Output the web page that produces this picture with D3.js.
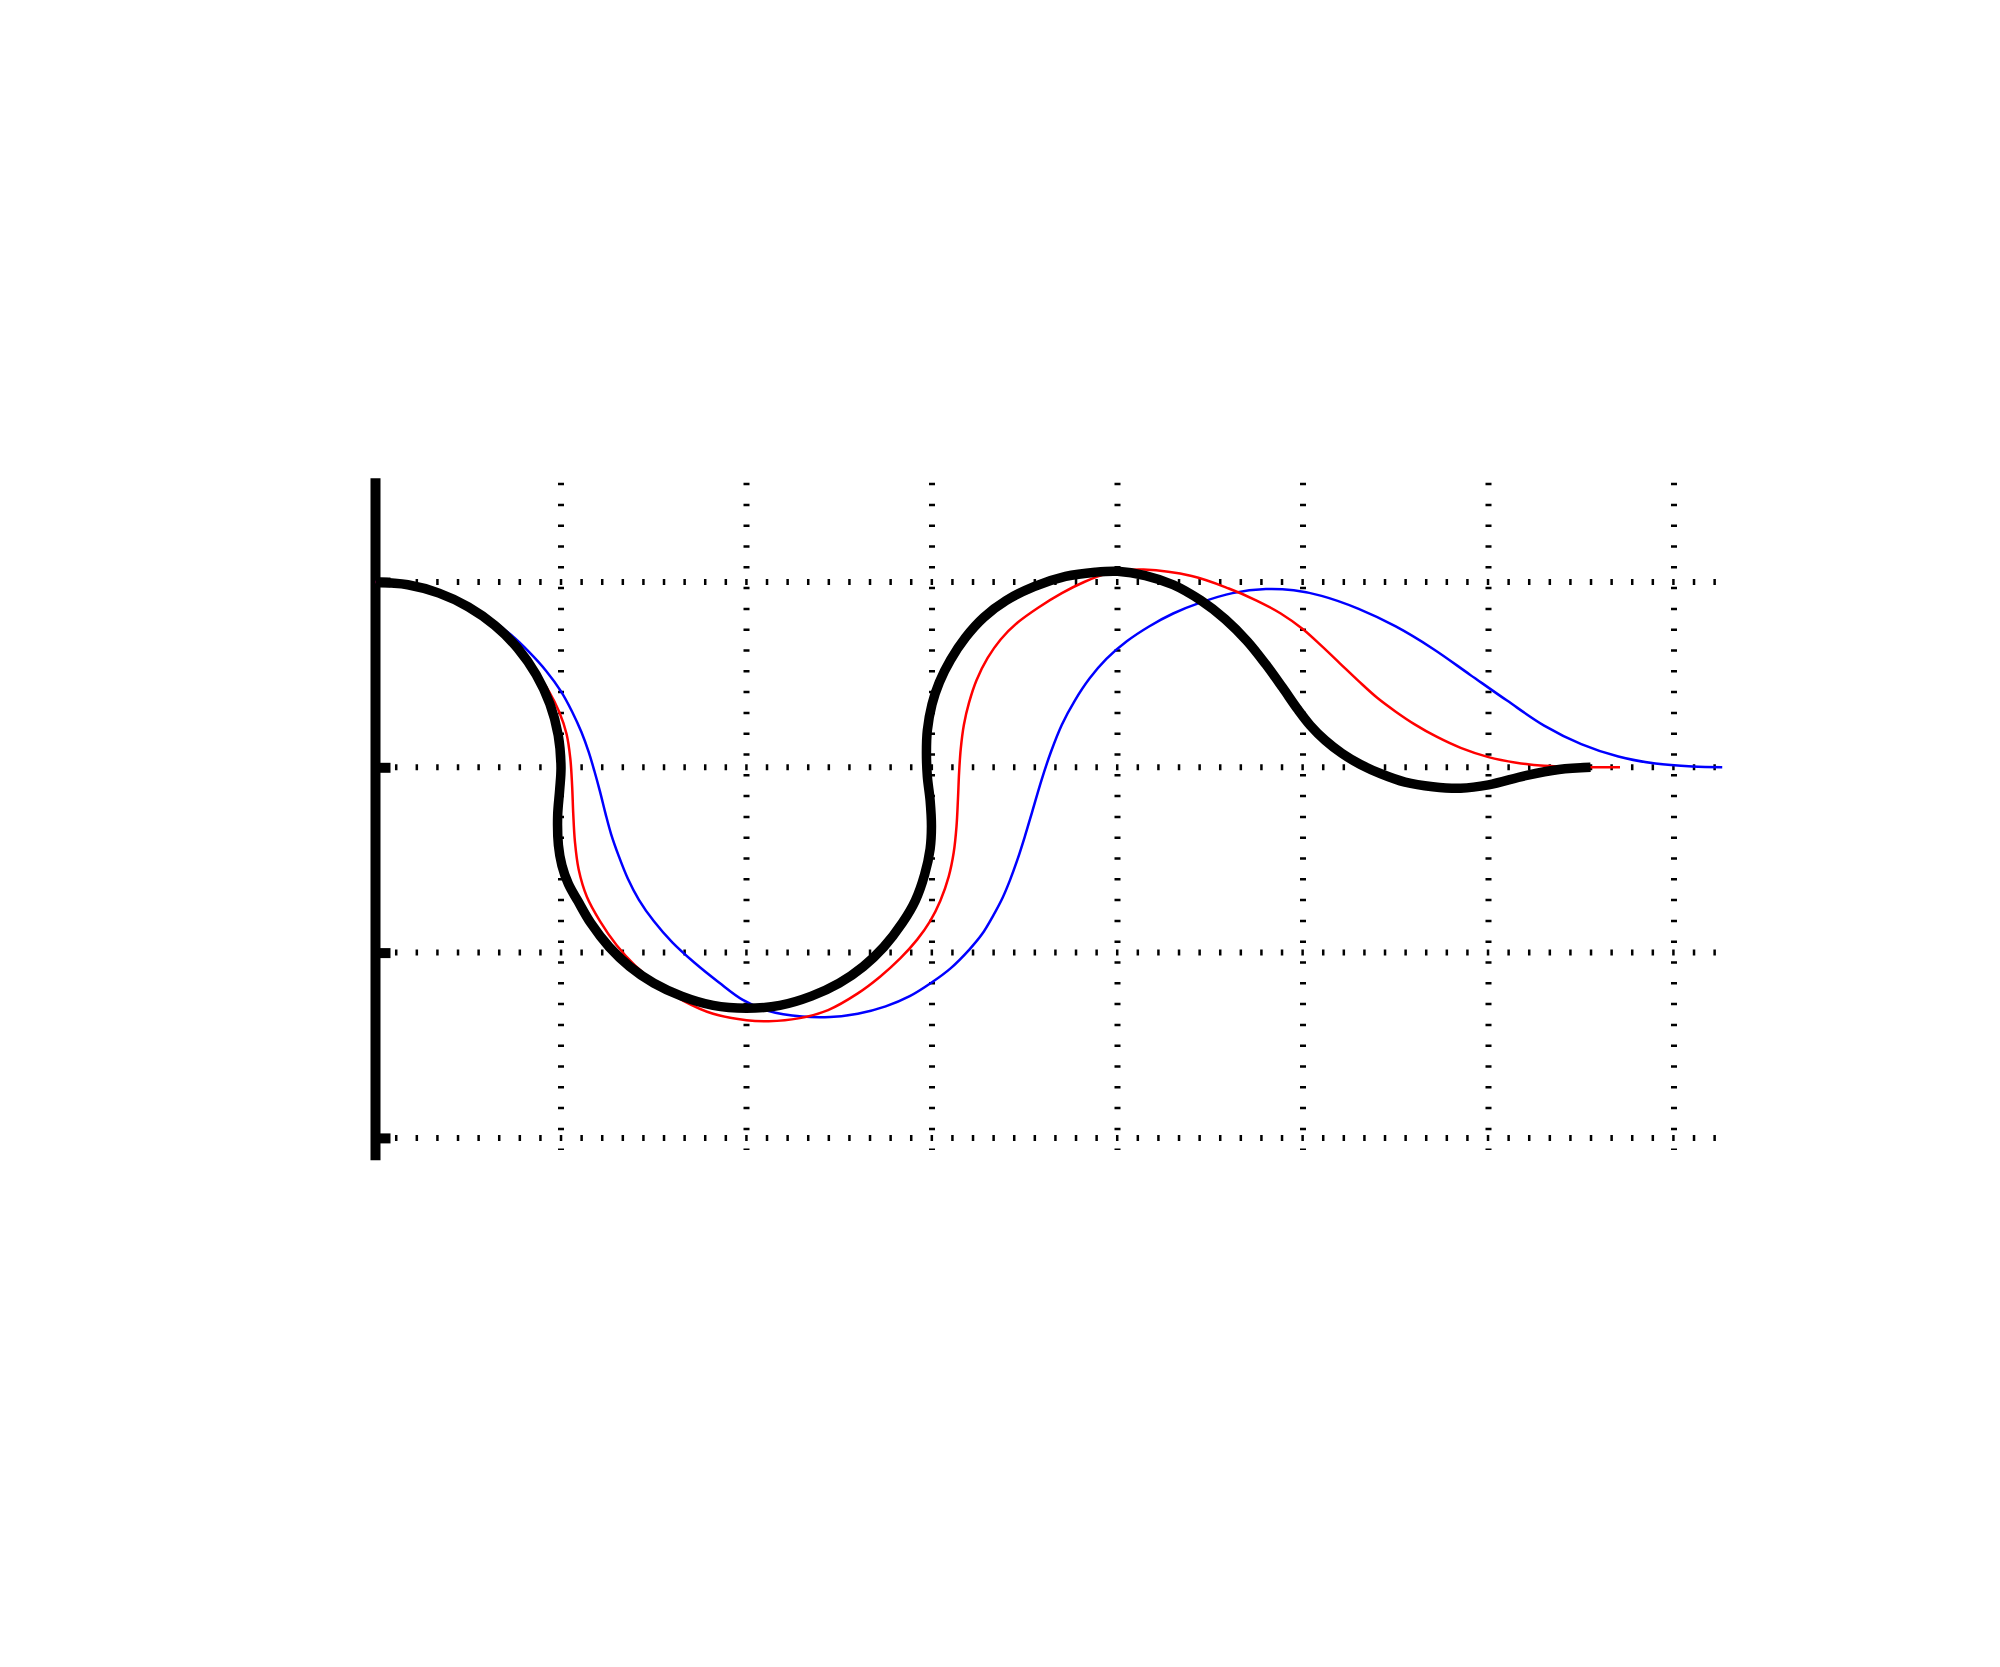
<!DOCTYPE html>
<html lang="en">
<head>
    <meta charset="UTF-8">
    <title>Curves</title>
</head>

<style>

body {
    margin: 0;
    background: white;
}

.grid-h {
    stroke: black;
    stroke-width: 6;
    stroke-dasharray: 2.5 18.1;
    fill: none;
}

.grid-v {
    stroke: black;
    stroke-width: 6;
    stroke-dasharray: 2.5 18.3;
    fill: none;
}

.curve {
    fill: none;
    stroke-linecap: butt;
    stroke-linejoin: round;
}

</style>

<body>
<svg height="1667" width="2000"></svg>

<script src="https://d3js.org/d3.v7.min.js"></script>

<script>

    var translate = function(left, top) {
        return "translate(" + left + "," + top + ")";
    };

    // grid positions
    var xGridValues = [1, 2, 3, 4, 5, 6, 7];
    var yGridValues = [1, 0, -1, -2];
    var yTickValues = [1, 0, -1, -2];

    // curves, [x, y]
    var blackCurve = [
        [0, 1.0], [0.174, 0.985], [0.342, 0.94], [0.5, 0.866], [0.643, 0.766],
        [0.766, 0.643], [0.866, 0.5], [0.94, 0.342], [0.985, 0.174], [1.0, 0.0],
        [0.993, -0.12], [0.982, -0.26], [0.986, -0.42], [1.005, -0.53], [1.04, -0.63],
        [1.09, -0.72], [1.16, -0.84], [1.26, -0.97], [1.37, -1.075], [1.5, -1.165],
        [1.65, -1.235], [1.82, -1.285], [2.0, -1.3], [2.18, -1.285], [2.35, -1.235],
        [2.5, -1.165], [2.63, -1.075], [2.74, -0.97], [2.84, -0.84], [2.91, -0.72],
        [2.96, -0.58], [2.99, -0.44], [2.997, -0.32], [2.99, -0.18], [2.975, -0.05],
        [2.97, 0.08], [2.975, 0.2], [3.0, 0.34], [3.04, 0.46], [3.1, 0.58],
        [3.18, 0.7], [3.28, 0.81], [3.4, 0.9], [3.55, 0.975], [3.72, 1.03],
        [3.88, 1.053], [4.0, 1.058], [4.15, 1.035], [4.3, 0.985], [4.45, 0.9],
        [4.58, 0.8], [4.7, 0.68], [4.8, 0.555], [4.89, 0.43], [4.97, 0.315],
        [5.04, 0.225], [5.12, 0.145], [5.21, 0.075], [5.31, 0.015], [5.42, -0.035],
        [5.55, -0.08], [5.7, -0.105], [5.85, -0.113], [6.0, -0.095], [6.2, -0.045],
        [6.38, -0.012], [6.55, 0.0]
    ];

    var redCurve = [
        [0, 1.0], [0.174, 0.985], [0.342, 0.94], [0.5, 0.866], [0.643, 0.766],
        [0.766, 0.643], [0.86, 0.525], [0.935, 0.41], [0.99, 0.3], [1.03, 0.18],
        [1.05, 0.05], [1.06, -0.1], [1.066, -0.25], [1.075, -0.4], [1.095, -0.55],
        [1.14, -0.7], [1.21, -0.83], [1.3, -0.96], [1.4, -1.07], [1.52, -1.17],
        [1.66, -1.26], [1.82, -1.33], [2.0, -1.365], [2.12, -1.37], [2.28, -1.355],
        [2.44, -1.31], [2.6, -1.22], [2.72, -1.13], [2.83, -1.03], [2.92, -0.93],
        [2.99, -0.83], [3.045, -0.72], [3.09, -0.59], [3.117, -0.46], [3.132, -0.32],
        [3.14, -0.17], [3.146, -0.03], [3.155, 0.1], [3.172, 0.23], [3.2, 0.35],
        [3.24, 0.47], [3.3, 0.59], [3.37, 0.69], [3.46, 0.78], [3.57, 0.86],
        [3.7, 0.94], [3.82, 1.0], [3.94, 1.045], [4.04, 1.063], [4.14, 1.067],
        [4.4, 1.032], [4.6, 0.965], [4.75, 0.9], [4.88, 0.83], [5.0, 0.745],
        [5.1, 0.655], [5.2, 0.56], [5.3, 0.465], [5.4, 0.375], [5.5, 0.3],
        [5.6, 0.233], [5.72, 0.165], [5.85, 0.105], [6.0, 0.055], [6.15, 0.025],
        [6.3, 0.008], [6.5, 0.001], [6.709, 0.0]
    ];

    var blueCurve = [
        [0, 1.0], [0.174, 0.985], [0.342, 0.94], [0.5, 0.87], [0.62, 0.8],
        [0.73, 0.715], [0.83, 0.62], [0.92, 0.52], [1.0, 0.41], [1.06, 0.3],
        [1.11, 0.19], [1.15, 0.08], [1.18, -0.02], [1.21, -0.13], [1.24, -0.25],
        [1.27, -0.36], [1.31, -0.475], [1.36, -0.6], [1.42, -0.715], [1.5, -0.83],
        [1.6, -0.945], [1.72, -1.055], [1.85, -1.16], [1.98, -1.255], [2.12, -1.315],
        [2.3, -1.345], [2.45, -1.348], [2.6, -1.33], [2.75, -1.29], [2.88, -1.235],
        [3.0, -1.16], [3.1, -1.085], [3.2, -0.985], [3.27, -0.9], [3.33, -0.8],
        [3.38, -0.705], [3.42, -0.61], [3.46, -0.5], [3.5, -0.375], [3.54, -0.24],
        [3.59, -0.07], [3.64, 0.08], [3.7, 0.23], [3.77, 0.36], [3.85, 0.48],
        [3.94, 0.585], [4.05, 0.68], [4.17, 0.76], [4.3, 0.83], [4.45, 0.89],
        [4.62, 0.94], [4.8, 0.962], [4.95, 0.955], [5.1, 0.925], [5.3, 0.855],
        [5.5, 0.76], [5.7, 0.64], [5.9, 0.5], [6.1, 0.36], [6.3, 0.225],
        [6.5, 0.125], [6.7, 0.058], [6.9, 0.02], [7.1, 0.004], [7.26, 0.0]
    ];

    var svg = d3.select("svg");

    svg.append("rect")
        .attr("width", 2000)
        .attr("height", 1667)
        .attr("fill", "white");

    var xScale = d3.scaleLinear().domain([0, 7]).range([375.5, 1674]);
    var yScale = d3.scaleLinear().domain([1, -2]).range([582, 1137.9]);

    var gridGroup = svg.append("g").attr("class", "grid");

    gridGroup.selectAll(".grid-h")
        .data(yGridValues)
        .enter()
        .append("line")
        .attr("class", "grid-h")
        .attr("x1", xScale(0.105))
        .attr("x2", xScale(7.23))
        .attr("y1", function(d) { return yScale(d); })
        .attr("y2", function(d) { return yScale(d); });

    gridGroup.selectAll(".grid-v")
        .data(xGridValues)
        .enter()
        .append("line")
        .attr("class", "grid-v")
        .attr("x1", function(d) { return xScale(d); })
        .attr("x2", function(d) { return xScale(d); })
        .attr("y1", yScale(1.535))
        .attr("y2", yScale(-2.065));

    // y axis: thick line with short inward ticks
    svg.append("line")
        .attr("x1", xScale(0))
        .attr("x2", xScale(0))
        .attr("y1", yScale(1.56))
        .attr("y2", yScale(-2.12))
        .attr("stroke", "black")
        .attr("stroke-width", 10);

    var yAxis = d3.axisRight(yScale)
        .tickValues(yTickValues)
        .tickSize(15)
        .tickFormat("");

    var axisGroup = svg.append("g")
        .attr("transform", translate(xScale(0), 0))
        .call(yAxis);

    axisGroup.select(".domain").remove();
    axisGroup.selectAll(".tick line")
        .attr("stroke", "black")
        .attr("stroke-width", 10);

    var line = d3.line()
        .x(function(d) { return xScale(d[0]); })
        .y(function(d) { return yScale(d[1]); })
        .curve(d3.curveCatmullRom.alpha(0.5));

    var series = [
        {name: "blue", points: blueCurve, color: "#0000ff", width: 2.5},
        {name: "red", points: redCurve, color: "#ff0000", width: 2.5},
        {name: "black", points: blackCurve, color: "#000000", width: 9.5}
    ];

    svg.selectAll(".curve")
        .data(series)
        .enter()
        .append("path")
        .attr("class", "curve")
        .attr("d", function(d) { return line(d.points); })
        .attr("stroke", function(d) { return d.color; })
        .attr("stroke-width", function(d) { return d.width; });

</script>
</body>

</html>
